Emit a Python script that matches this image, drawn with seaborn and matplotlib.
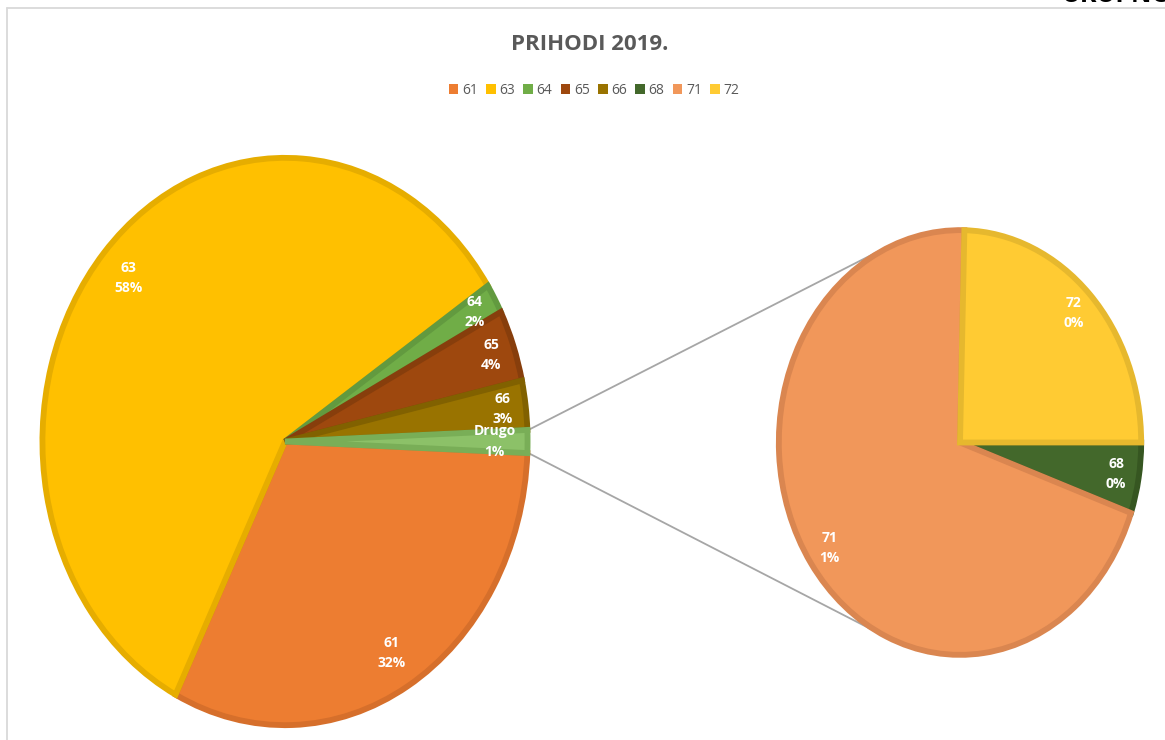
import numpy as np
import matplotlib.pyplot as plt
import seaborn as sns
from matplotlib.patches import ConnectionPatch, Patch
from matplotlib.lines import Line2D

# ==========================================================
# Data
# ==========================================================

main_labels = ["61", "63", "64", "65", "66", "Drugo"]
main_values = [31.8, 58.3, 1.7, 4.1, 2.8]

sub_labels = ["68", "71", "72"]
sub_values = [0.07, 0.91, 0.32]

legend_labels = ["61", "63", "64", "65", "66", "68", "71", "72"]

main_colors = ["#ED7D31", "#FFC000", "#70AD47", "#9E480E", "#997300", "#8CC168"]
main_edges = ["#D66F2B", "#E6AD00", "#629A3F", "#873E0C", "#816100", "#79AE57"]
sub_colors = ["#43682B", "#F1975A", "#FFCB33"]
sub_edges = ["#365621", "#DA8650", "#E6B82E"]

legend_colors = dict(zip(main_labels[:5] + sub_labels, main_colors[:5] + sub_colors))

# "Drugo" slice is the sum of the small categories
all_main = main_values + [sum(sub_values)]
total = sum(all_main)

# ==========================================================
# Figure
# ==========================================================

sns.set_theme(style="white")
plt.rcParams["font.family"] = ["Open Sans", "DejaVu Sans"]

W, H = 1165, 740
fig = plt.figure(figsize=(W / 100, H / 100), dpi=100)
fig.patch.set_facecolor("white")

# chart frame
fig.add_artist(Line2D([7 / W, 7 / W], [0, 1 - 8 / H], transform=fig.transFigure,
                      color="#D9D9D9", lw=1.3))
fig.add_artist(Line2D([7 / W, 1], [1 - 8 / H, 1 - 8 / H], transform=fig.transFigure,
                      color="#D9D9D9", lw=1.3))

# cut off text from the page above
fig.text(1062 / W, 1 - 2 / H, "UKUPNO", fontsize=18, fontweight="bold",
         color="black", va="baseline", ha="left")

# ----------------------------------------------------------
# Main pie
# ----------------------------------------------------------

ax1 = fig.add_axes([40 / W, 1 - 728 / H, 490 / W, 573 / H])
drugo_deg = all_main[-1] / total * 360

wedges1, _ = ax1.pie(
    all_main,
    colors=main_colors,
    startangle=-drugo_deg / 2,
    counterclock=False,
    radius=0.995,
    wedgeprops=dict(linewidth=4.2),
)
for w, ec in zip(wedges1, main_edges):
    w.set_edgecolor(ec)

ax1.set_aspect("auto")
ax1.set_xlim(-1.005, 1.005)
ax1.set_ylim(-1.005, 1.005)
ax1.axis("off")

for w, lab, val in zip(wedges1, main_labels, all_main):
    mid = np.deg2rad((w.theta1 + w.theta2) / 2)
    r = 0.86 if val > 5 or lab == "Drugo" else 0.9
    ax1.text(r * np.cos(mid), r * np.sin(mid), f"{lab}\n{val / total * 100:.0f}%",
             ha="center", va="center", color="white", fontsize=10,
             fontweight="bold", linespacing=1.55)

# ----------------------------------------------------------
# Secondary pie
# ----------------------------------------------------------

ax2 = fig.add_axes([777 / W, 1 - 657 / H, 366 / W, 429 / H])

wedges2, _ = ax2.pie(
    sub_values,
    colors=sub_colors,
    startangle=0,
    counterclock=False,
    radius=0.995,
    wedgeprops=dict(linewidth=4.2),
)
for w, ec in zip(wedges2, sub_edges):
    w.set_edgecolor(ec)

ax2.set_aspect("auto")
ax2.set_xlim(-1.005, 1.005)
ax2.set_ylim(-1.005, 1.005)
ax2.axis("off")

for w, lab, val in zip(wedges2, sub_labels, sub_values):
    mid = np.deg2rad((w.theta1 + w.theta2) / 2)
    ax2.text(0.87 * np.cos(mid), 0.87 * np.sin(mid), f"{lab}\n{val / total * 100:.0f}%",
             ha="center", va="center", color="white", fontsize=10,
             fontweight="bold", linespacing=1.55)

# ----------------------------------------------------------
# Connector lines
# ----------------------------------------------------------

half = drugo_deg / 2
for ang_main, ang_sub in [(half, 112), (-half, -118)]:
    a = np.deg2rad(ang_main)
    b = np.deg2rad(ang_sub)
    con = ConnectionPatch(xyA=(np.cos(a), np.sin(a)), coordsA=ax1.transData,
                          xyB=(np.cos(b), np.sin(b)), coordsB=ax2.transData,
                          color="#A6A6A6", lw=1.3, zorder=0)
    fig.add_artist(con)

# ----------------------------------------------------------
# Title & legend
# ----------------------------------------------------------

fig.text(590 / W, 1 - 45 / H, "PRIHODI 2019.", ha="center", va="center",
         fontsize=16, fontweight="bold", color="#595959")

handles = [Patch(facecolor=legend_colors[l], edgecolor="none", label=l) for l in legend_labels]
fig.legend(handles=handles, loc="center", bbox_to_anchor=(594 / W, 1 - 90 / H),
           ncol=8, frameon=False, fontsize=10, handlelength=0.7, handleheight=0.7,
           handletextpad=0.25, columnspacing=0.6, labelcolor="#595959")

plt.savefig("out.png", dpi=100)
